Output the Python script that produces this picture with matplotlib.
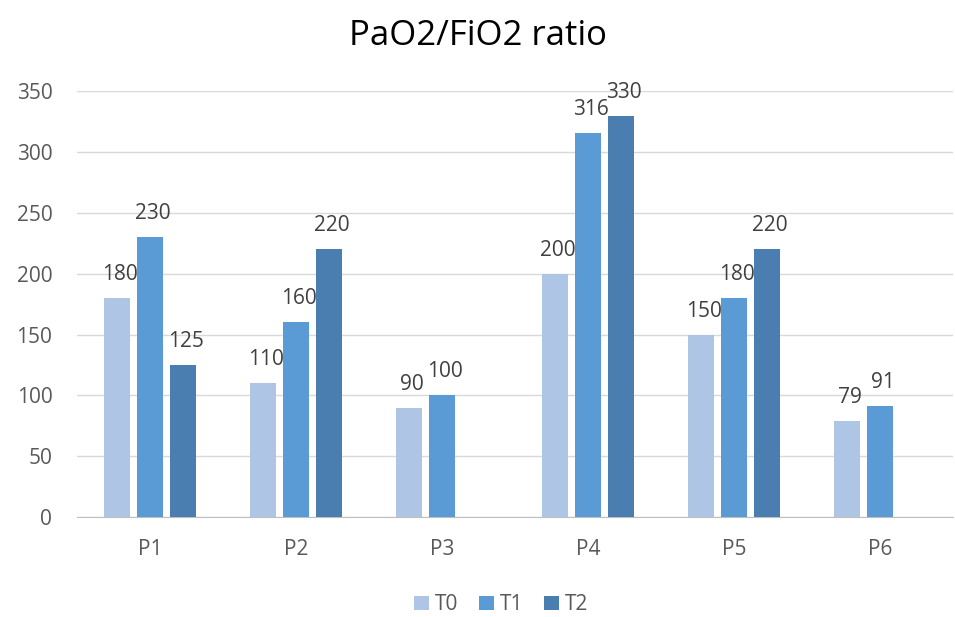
import numpy as np
import matplotlib.pyplot as plt

plt.rcParams['font.family'] = ['Open Sans', 'DejaVu Sans']

patients = ["P1", "P2", "P3", "P4", "P5", "P6"]
t0 = [180, 110, 90, 200, 150, 79]
t1 = [230, 160, 100, 316, 180, 91]
t2 = [125, 220, None, 330, 220, None]

series = [("T0", t0, "#AEC5E6"), ("T1", t1, "#5B9BD5"), ("T2", t2, "#4A7EB1")]

fig = plt.figure(figsize=(9.55, 6.17), dpi=100)
ax = fig.add_axes([0.081, 0.162, 0.917, 0.690])

x = np.arange(len(patients))
width = 0.178
offset = 0.226

for i, (name, vals, color) in enumerate(series):
    pos = x + (i - 1) * offset
    heights = [v if v is not None else 0 for v in vals]
    bars = ax.bar(pos, heights, width, color=color, label=name, zorder=3)
    for b, v in zip(bars, vals):
        if v is None:
            b.set_visible(False)
            continue
        ax.annotate(str(v), (b.get_x() + b.get_width() / 2, v), xytext=(2, 13),
                    textcoords="offset points", ha="center", va="baseline",
                    fontsize=15, color="#404040", annotation_clip=False)

ax.set_ylim(0, 350)
ax.set_xlim(-0.5, len(patients) - 0.5)
ax.set_yticks(range(0, 351, 50))
ax.set_xticks(x)
ax.set_xticklabels(patients)
ax.grid(axis="y", color="#D9D9D9", linewidth=1, zorder=0)
for s in ["top", "right", "left"]:
    ax.spines[s].set_visible(False)
ax.spines["bottom"].set_color("#BFBFBF")
ax.tick_params(axis="both", length=0, labelsize=15, colors="#595959")
ax.tick_params(axis="x", pad=16)
ax.tick_params(axis="y", pad=18)

fig.suptitle("PaO2/FiO2 ratio", y=0.97, fontsize=25, color="#000000")
fig.legend(loc="center", bbox_to_anchor=(0.525, 0.02), ncol=3, frameon=False,
           fontsize=15, handlelength=0.7, handleheight=0.7, columnspacing=1.0,
           handletextpad=0.3, labelcolor="#595959", borderaxespad=0)

fig.savefig("out.png", dpi=100)
